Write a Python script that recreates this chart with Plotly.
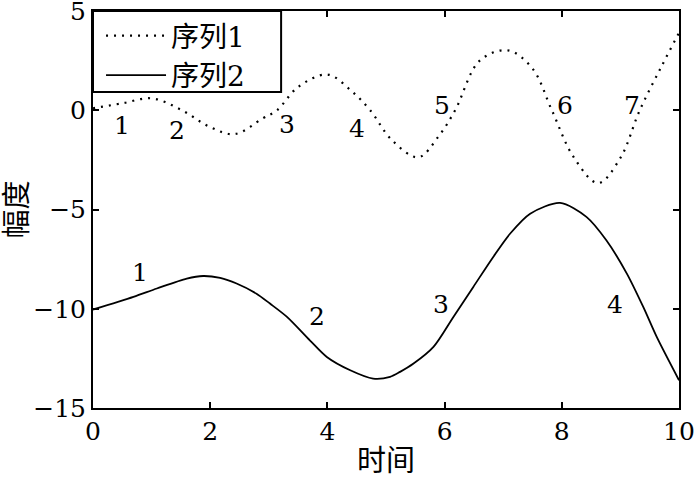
import plotly.graph_objects as go

# Series 1 (dotted)
s1_x = [0, 0.5, 1.0, 1.5, 2.0, 2.42, 2.9, 3.14, 3.5, 4.0, 4.4, 4.73, 5.1, 5.55, 5.9, 6.18, 6.6, 7.08, 7.5, 7.83, 8.2, 8.62, 9.0, 9.33, 9.7, 10]
s1_y = [0.1, 0.35, 0.6, 0.03, -0.85, -1.2, -0.4, 0.0, 1.17, 1.8, 1.0, 0.0, -1.5, -2.37, -1.3, 0.0, 2.5, 3.02, 2.1, 0.0, -2.35, -3.67, -2.4, 0.0, 2.2, 3.9]

# Series 2 (solid)
s2_x = [0, 0.69, 1.09, 1.60, 1.88, 2.17, 2.45, 2.79, 3.02, 3.31, 3.70, 3.99, 4.39, 4.78, 5.07, 5.24, 5.47, 5.81, 6.15, 6.49, 6.83, 7.12, 7.46, 7.97, 8.42, 8.76, 9.11, 9.39, 9.62, 10]
s2_y = [-10.04, -9.40, -8.98, -8.48, -8.35, -8.45, -8.73, -9.24, -9.74, -10.41, -11.59, -12.43, -13.10, -13.52, -13.43, -13.18, -12.76, -11.92, -10.41, -8.90, -7.39, -6.21, -5.21, -4.67, -5.37, -6.55, -8.23, -9.91, -11.42, -13.6]

# Labels
lab1_text = ["1", "2", "3", "4", "5", "6", "7"]
lab1_x = [0.5, 1.43, 3.31, 4.5, 5.96, 8.05, 9.2]
lab1_y = [-0.75, -1.0, -0.7, -0.9, 0.25, 0.25, 0.25]
lab2_text = ["1", "2", "3", "4"]
lab2_x = [0.8, 3.82, 5.94, 8.9]
lab2_y = [-8.15, -10.4, -9.8, -9.8]

x_ticks = [0, 2, 4, 6, 8, 10]
y_ticks = [-15, -10, -5, 0, 5]

FONT = "DejaVu Serif, Noto Sans CJK SC"
FS = 25
FS_CJK = 29
FS_LEG = 28

fig = go.Figure()
fig.add_trace(go.Scatter(x=s1_x, y=s1_y, mode="lines", name="序列1",
                         line=dict(color="black", width=2.2, dash="2px,6px", shape="spline", smoothing=1.0)))
fig.add_trace(go.Scatter(x=s2_x, y=s2_y, mode="lines", name="序列2",
                         line=dict(color="black", width=1.8, shape="spline", smoothing=0.8)))

for t, x, y in zip(lab1_text, lab1_x, lab1_y):
    fig.add_annotation(x=x, y=y, text=t, showarrow=False, font=dict(family=FONT, size=FS, color="black"))
for t, x, y in zip(lab2_text, lab2_x, lab2_y):
    fig.add_annotation(x=x, y=y, text=t, showarrow=False, font=dict(family=FONT, size=FS, color="black"))

# Legend frame (white box with black border, covering the curves)
fig.add_shape(type="rect", xref="paper", yref="paper", x0=0, x1=0.321, y0=0.796, y1=1,
              fillcolor="white", line=dict(color="black", width=2), layer="above")

axis_common = dict(showline=True, linecolor="black", linewidth=2, mirror="ticks",
                   ticks="inside", ticklen=6, tickwidth=1.5, tickcolor="black",
                   showgrid=False, zeroline=False, automargin=False,
                   ticklabeloverflow="allow",
                   tickfont=dict(family=FONT, size=FS, color="black"))

fig.update_xaxes(range=[0, 10], tickvals=x_ticks, ticktext=[str(v) for v in x_ticks],
                 title=dict(text="时间", font=dict(family=FONT, size=FS_CJK, color="black"), standoff=6),
                 **axis_common)
fig.update_yaxes(range=[-15, 5], tickvals=y_ticks, ticktext=[("−" + str(-v)) if v < 0 else str(v) for v in y_ticks],
                 title=dict(text="幅度", font=dict(family=FONT, size=FS_CJK, color="black"), standoff=0),
                 **axis_common)

fig.update_layout(
    width=700, height=479,
    margin=dict(l=93, r=21, t=11, b=71),
    plot_bgcolor="white", paper_bgcolor="white",
    legend=dict(x=0.0137, y=1, xanchor="left", yanchor="top", bgcolor="rgba(0,0,0,0)",
                borderwidth=0,
                font=dict(family=FONT, size=FS_LEG, color="black"),
                tracegroupgap=0, itemwidth=60),
    showlegend=True,
)

fig.write_html("out.html", config={"displayModeBar": False},
               post_script="document.body.style.margin='0px';")
